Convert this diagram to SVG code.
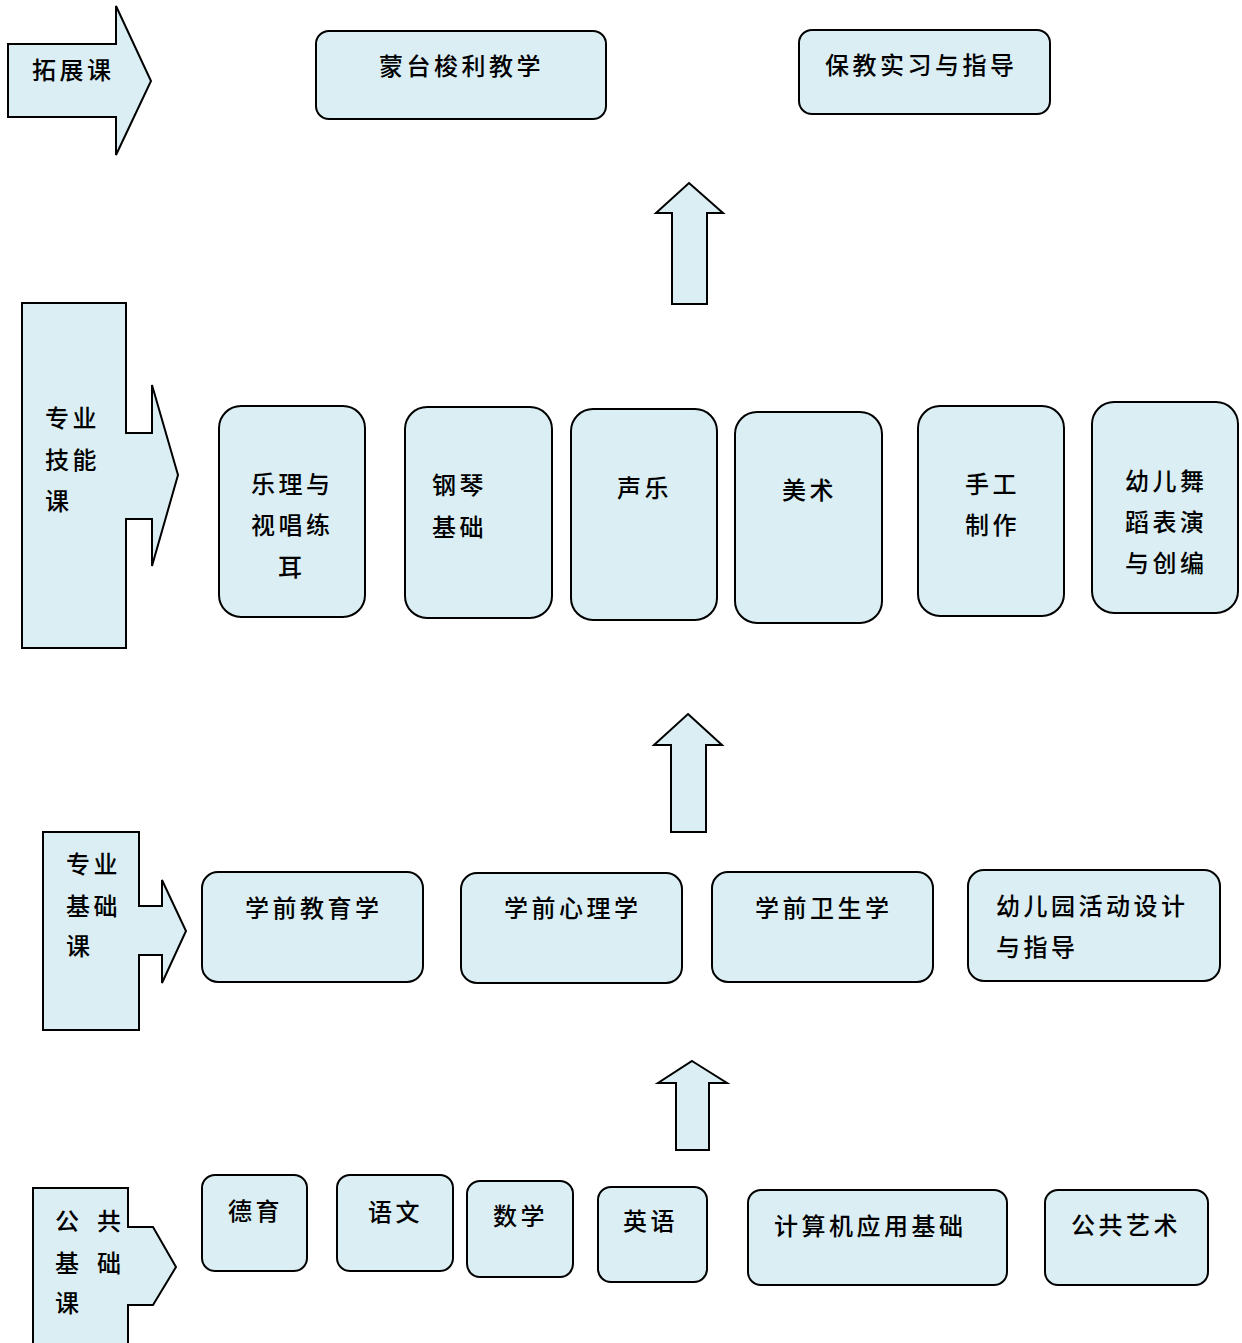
<svg xmlns="http://www.w3.org/2000/svg" width="1242" height="1343" viewBox="0 0 1242 1343">
<style>
.s{fill:#DAEEF3;stroke:#000;stroke-width:2;stroke-linejoin:miter}
.b{fill:#DAEEF3;stroke:#000;stroke-width:2}
text{font-family:"Noto Sans CJK SC","Noto Sans CJK TC",sans-serif;font-size:24px;font-weight:500;fill:#000;letter-spacing:3.5px}
</style>
<rect width="1242" height="1343" fill="#fff"/>
<g id="lbl-tuozhan"><polygon class="s" points="8,44 116,44 116,6 151,81 116,155 116,117 8,117"/><text x="32" y="79">拓展课</text></g>
<g id="lbl-zhuanye-jineng"><polygon class="s" points="22,303 126,303 126,433 152,433 152,385 178,475 152,566 152,519 126,519 126,648 22,648"/><text x="45" y="427">专业</text><text x="45" y="469">技能</text><text x="45" y="510">课</text></g>
<g id="lbl-zhuanye-jichu"><polygon class="s" points="43,832 139,832 139,906 162,906 162,880 186,931 162,983 162,955 139,955 139,1030 43,1030"/><text x="66" y="873">专业</text><text x="66" y="915">基础</text><text x="66" y="955">课</text></g>
<g id="lbl-gonggong"><polygon class="s" points="33,1188 128,1188 128,1227 153,1227 176,1267 153,1305 128,1305 128,1350 33,1350"/><text x="55" y="1230" style="letter-spacing:18px">公共</text><text x="55" y="1272" style="letter-spacing:18px">基础</text><text x="55" y="1312">课</text></g>

<g id="connectors">
<polygon class="s" points="689,183 723,213 707,213 707,304 672,304 672,213 656,213"/>
<polygon class="s" points="688,714 722,745 706,745 706,832 671,832 671,745 654,745"/>
<polygon class="s" points="692,1061 727,1083 709,1083 709,1150 676,1150 676,1083 658,1083"/>
</g>

<g id="n-mengtai"><rect class="b" x="316" y="31" width="290" height="88" rx="13"/><text x="379" y="75">蒙台梭利教学</text></g>
<g id="n-baojiao"><rect class="b" x="799" y="30" width="251" height="84" rx="13"/><text x="825" y="74">保教实习与指导</text></g>

<g id="n-yueli"><rect class="b" x="219" y="406" width="146" height="211" rx="22"/><text x="251" y="493">乐理与</text><text x="251" y="534">视唱练</text><text x="278" y="576">耳</text></g>
<g id="n-gangqin"><rect class="b" x="405" y="407" width="147" height="211" rx="22"/><text x="432" y="494">钢琴</text><text x="432" y="536">基础</text></g>
<g id="n-shengyue"><rect class="b" x="571" y="409" width="146" height="211" rx="22"/><text x="617" y="497">声乐</text></g>
<g id="n-meishu"><rect class="b" x="735" y="412" width="147" height="211" rx="22"/><text x="782" y="499">美术</text></g>
<g id="n-shougong"><rect class="b" x="918" y="406" width="146" height="210" rx="22"/><text x="965" y="493">手工</text><text x="965" y="534">制作</text></g>
<g id="n-wudao"><rect class="b" x="1092" y="402" width="146" height="211" rx="22"/><text x="1125" y="490">幼儿舞</text><text x="1125" y="531">蹈表演</text><text x="1125" y="572">与创编</text></g>

<g id="n-jiaoyu"><rect class="b" x="202" y="872" width="221" height="110" rx="16"/><text x="245" y="917">学前教育学</text></g>
<g id="n-xinli"><rect class="b" x="461" y="873" width="221" height="110" rx="16"/><text x="504" y="917">学前心理学</text></g>
<g id="n-weisheng"><rect class="b" x="712" y="872" width="221" height="110" rx="16"/><text x="755" y="917">学前卫生学</text></g>
<g id="n-huodong"><rect class="b" x="968" y="870" width="252" height="111" rx="16"/><text x="996" y="915">幼儿园活动设计</text><text x="996" y="956">与指导</text></g>

<g id="n-deyu"><rect class="b" x="202" y="1175" width="105" height="96" rx="13"/><text x="228" y="1220">德育</text></g>
<g id="n-yuwen"><rect class="b" x="337" y="1175" width="116" height="96" rx="13"/><text x="368" y="1221">语文</text></g>
<g id="n-shuxue"><rect class="b" x="467" y="1181" width="106" height="96" rx="13"/><text x="493" y="1225">数学</text></g>
<g id="n-yingyu"><rect class="b" x="598" y="1187" width="109" height="95" rx="13"/><text x="623" y="1230">英语</text></g>
<g id="n-jisuanji"><rect class="b" x="748" y="1190" width="259" height="95" rx="13"/><text x="774" y="1235">计算机应用基础</text></g>
<g id="n-yishu"><rect class="b" x="1045" y="1190" width="163" height="95" rx="13"/><text x="1071" y="1234">公共艺术</text></g>
</svg>
